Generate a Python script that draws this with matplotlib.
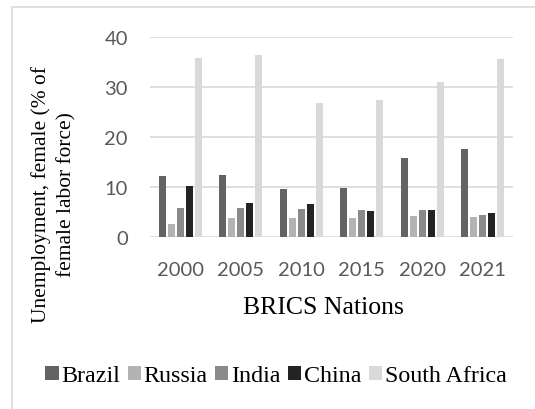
import numpy as np
import matplotlib
matplotlib.use('Agg')
import matplotlib.pyplot as plt
from matplotlib.patches import Patch, Rectangle

# --- données ---
years = ['2000', '2005', '2010', '2015', '2020', '2021']
countries = ['Brazil', 'Russia', 'India', 'China', 'South Africa']
brazil = [12.3, 12.5, 9.7, 9.9, 15.9, 17.6]
russia = [2.6, 3.8, 3.8, 3.9, 4.2, 4.1]
india = [5.9, 5.8, 5.6, 5.4, 5.4, 4.4]
china = [10.3, 6.8, 6.7, 5.2, 5.4, 4.9]
south_africa = [35.9, 36.4, 26.9, 27.5, 31.1, 35.6]
yticks = [0, 10, 20, 30, 40]

series = [brazil, russia, india, china, south_africa]
colors = ['#636363', '#b3b3b3', '#8a8a8a', '#232323', '#d9d9d9']

fig = plt.figure(figsize=(5.35, 4.1), dpi=100)
ax = fig.add_axes([150/535, 1 - 238/410, 363/535, 200/410])

# cadre gris autour du graphique
fig.patches.append(Rectangle((12/535, -0.1), 1.1, 1.1 - 8/410,
                             transform=fig.transFigure, fill=False,
                             edgecolor='#d9d9d9', linewidth=1.2))

x = np.arange(len(years))
step = 0.149
width = 0.118
for k, (vals, col) in enumerate(zip(series, colors)):
    ax.bar(x + (k - 2) * step, vals, width=width, color=col, zorder=3)

ax.set_ylim(0, 40)
ax.set_xlim(-0.5, len(years) - 0.5)
ax.set_yticks(yticks)
ax.set_xticks(x)
ax.set_xticklabels(years)
ax.yaxis.grid(True, color='#d9d9d9', linewidth=1.2, zorder=0)
for s in ax.spines.values():
    s.set_visible(False)
ax.tick_params(length=0, labelsize=14.5, labelcolor='#595959')
ax.tick_params(axis='y', pad=16)
ax.tick_params(axis='x', pad=17)
for lab in ax.get_xticklabels() + ax.get_yticklabels():
    lab.set_family('Lato')

fig.text(323/535, 1 - 308/410, 'BRICS Nations', ha='center', va='center',
         family='Liberation Serif', fontsize=18.5)
fig.text(54/535, 1 - 195/410, 'Unemployment, female (% of\nfemale labor force)',
         rotation=90, ha='center', va='center', family='Liberation Serif',
         fontsize=15.4, linespacing=1.45, multialignment='center')

handles = [Patch(facecolor=c, edgecolor='none') for c in colors]
fig.legend(handles, countries, loc='center', bbox_to_anchor=(276/535, 1 - 377/410),
           ncol=5, frameon=False, handlelength=0.55, handleheight=0.55,
           handletextpad=0.12, columnspacing=0.3,
           prop={'family': 'Liberation Serif', 'size': 17.3})

fig.savefig('out.png', dpi=100)
plt.close(fig)
